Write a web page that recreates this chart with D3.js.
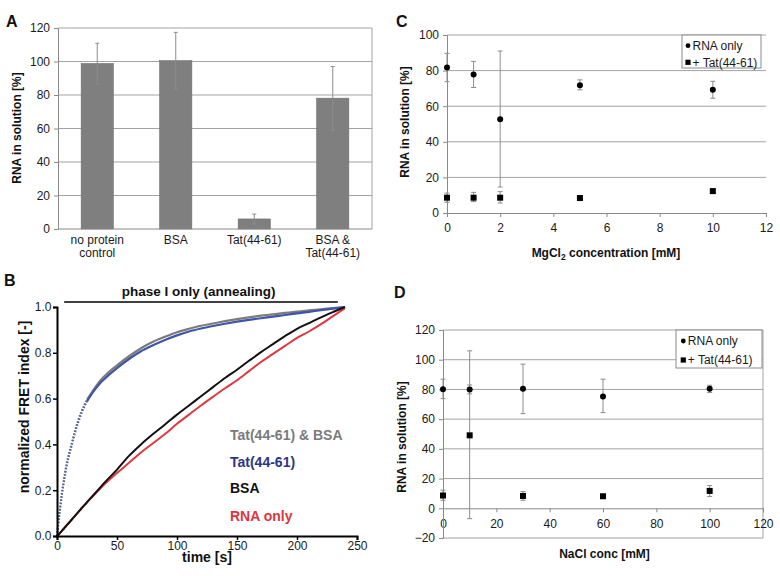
<!DOCTYPE html>
<html>
<head>
<meta charset="utf-8">
<script src="https://cdn.jsdelivr.net/npm/d3@7"></script>
<style>
  html, body { margin: 0; padding: 0; background: #fff; }
  svg { display: block; }
  text { font-family: "Liberation Sans", Arial, Helvetica, sans-serif; }
</style>
</head>
<body>
<script>
// ---------------- DATA ----------------
// Panel A
const catsA = ["no protein control", "BSA", "Tat(44-61)", "BSA & Tat(44-61)"];
const catLinesA = [["no protein", "control"], ["BSA"], ["Tat(44-61)"], ["BSA &", "Tat(44-61)"]];
const valsA = [98.8, 100.5, 6, 78.1];
const errLoA = [86.4, 83.4, 3, 58.8];
const errHiA = [110.9, 117.4, 8.9, 97];
const ticksA = [0, 20, 40, 60, 80, 100, 120];

// Panel B (time course)
const timeB = [0, 2, 4, 6, 8, 10, 12, 15, 20, 25, 30, 35, 40, 50, 60, 70, 80, 90, 100, 110, 120, 130, 140, 150, 160, 170, 180, 190, 200, 210, 220, 230, 240];
const tatBsaB = [0.0, 0.10, 0.185, 0.255, 0.315, 0.36, 0.40, 0.46, 0.54, 0.595, 0.635, 0.672, 0.70, 0.745, 0.785, 0.82, 0.848, 0.87, 0.89, 0.905, 0.918, 0.928, 0.938, 0.947, 0.955, 0.962, 0.968, 0.974, 0.98, 0.985, 0.99, 0.995, 1.0];
const tatB = [0.0, 0.09, 0.175, 0.245, 0.305, 0.35, 0.39, 0.45, 0.53, 0.588, 0.628, 0.662, 0.688, 0.733, 0.773, 0.807, 0.833, 0.856, 0.876, 0.893, 0.906, 0.917, 0.927, 0.936, 0.944, 0.951, 0.958, 0.965, 0.972, 0.979, 0.986, 0.993, 1.0];
const bsaB = [0.0, 0.01, 0.022, 0.034, 0.046, 0.058, 0.07, 0.088, 0.118, 0.148, 0.177, 0.206, 0.235, 0.29, 0.35, 0.40, 0.445, 0.487, 0.53, 0.57, 0.61, 0.65, 0.69, 0.726, 0.765, 0.803, 0.838, 0.873, 0.905, 0.93, 0.955, 0.978, 1.0];
const rnaB = [0.0, 0.01, 0.022, 0.034, 0.046, 0.058, 0.07, 0.088, 0.118, 0.146, 0.174, 0.202, 0.228, 0.275, 0.32, 0.365, 0.405, 0.445, 0.49, 0.53, 0.57, 0.608, 0.645, 0.68, 0.72, 0.76, 0.795, 0.83, 0.865, 0.893, 0.925, 0.96, 0.995];
const seriesNamesB = ["Tat(44-61) & BSA", "Tat(44-61)", "BSA", "RNA only"];
const xTicksB = [0, 50, 100, 150, 200, 250];
const yTicksB = [0, 0.2, 0.4, 0.6, 0.8, 1.0];

// Panel C (MgCl2)
const mgX = [0, 1, 2, 5, 10];
const mgRNA = [81.8, 77.8, 52.7, 71.8, 69.2];
const mgRNALo = [73.8, 70.5, 14.6, 69.2, 64.5];
const mgRNAHi = [89.7, 85.2, 91, 74.8, 74];
const mgTat = [8.6, 8.6, 8.6, 8.4, 12.3];
const mgTatLo = [6, 6.4, 5.6, 7.5, 11.5];
const mgTatHi = [11.2, 11.6, 12, 9.3, 13.3];
const xTicksC = [0, 2, 4, 6, 8, 10, 12];
const yTicksC = [0, 20, 40, 60, 80, 100];

// Panel D (NaCl)
const naX = [0, 10, 30, 60, 100];
const naRNA = [80.1, 80, 80.4, 75.2, 80.4];
const naRNALo = [73.8, 77, 63.7, 64.4, 77.9];
const naRNAHi = [86.9, 83, 97, 86.9, 82.8];
const naTat = [8.6, 49.1, 8.3, 8.1, 11.7];
const naTatLo = [5.4, -7, 5.4, 7.2, 7.9];
const naTatHi = [12.2, 106, 11.3, 9, 15.3];
const xTicksD = [0, 20, 40, 60, 80, 100, 120];
const yTicksD = [-20, 0, 20, 40, 60, 80, 100, 120];

const legendNames = ["RNA only", "+ Tat(44-61)"];

// ---------------- DRAW ----------------
const svg = d3.select("body").append("svg").attr("width", 780).attr("height", 576);
svg.append("rect").attr("width", 780).attr("height", 576).attr("fill", "#fff");

const GRID = "#a3a3a3", AXIS = "#8a8a8a", ERR = "#8c8c8c", TXT = "#1a1a1a";

function panelLabel(t, x, y) {
  svg.append("text").attr("x", x).attr("y", y).attr("font-size", 16).attr("font-weight", "bold").attr("fill", "#111").text(t);
}
panelLabel("A", 6, 26.5);
panelLabel("B", 4, 286);
panelLabel("C", 396, 26.5);
panelLabel("D", 394, 298);

// ===== Panel A =====
(function () {
  const g = svg.append("g");
  const x = d3.scaleBand().domain(catsA).range([58, 372]).paddingInner(0.59).paddingOuter(0.295);
  const y = d3.scaleLinear().domain([0, 120]).range([229, 28]);
  g.selectAll(".grid").data(ticksA.filter(d => d > 0)).join("line")
    .attr("x1", 58).attr("x2", 372).attr("y1", d => y(d)).attr("y2", d => y(d))
    .attr("stroke", GRID).attr("stroke-width", 1);
  g.append("line").attr("x1", 372).attr("x2", 372).attr("y1", y(120)).attr("y2", y(0)).attr("stroke", GRID);
  g.selectAll(".bar").data(valsA).join("rect")
    .attr("x", (d, i) => x(catsA[i])).attr("width", x.bandwidth())
    .attr("y", d => y(d)).attr("height", d => y(0) - y(d))
    .attr("fill", "#7f7f7f").attr("stroke", "#6e6e6e").attr("stroke-width", 0.6);
  const cx = i => x(catsA[i]) + x.bandwidth() / 2;
  valsA.forEach((v, i) => {
    g.append("line").attr("x1", cx(i)).attr("x2", cx(i)).attr("y1", y(errLoA[i])).attr("y2", y(errHiA[i])).attr("stroke", ERR);
    [errLoA[i], errHiA[i]].forEach(e => g.append("line").attr("x1", cx(i) - 2).attr("x2", cx(i) + 2).attr("y1", y(e)).attr("y2", y(e)).attr("stroke", ERR));
  });
  const ya = g.append("g").attr("transform", "translate(58,0)")
    .call(d3.axisLeft(y).tickValues(ticksA).tickSize(4).tickPadding(4));
  ya.select(".domain").attr("stroke", AXIS);
  ya.selectAll(".tick line").attr("stroke", AXIS);
  ya.selectAll("text").attr("font-size", 12).attr("fill", TXT).attr("font-family", "Liberation Sans, Arial, sans-serif");
  g.append("line").attr("x1", 58).attr("x2", 372).attr("y1", y(0)).attr("y2", y(0)).attr("stroke", AXIS);
  catLinesA.forEach((lines, i) => {
    lines.forEach((l, j) => {
      g.append("text").attr("x", cx(i)).attr("y", 243.5 + j * 13.5).attr("text-anchor", "middle")
        .attr("font-size", 12).attr("fill", TXT).text(l);
    });
  });
  g.append("text").attr("transform", "translate(21,128) rotate(-90)").attr("text-anchor", "middle")
    .attr("font-size", 12).attr("font-weight", "bold").attr("fill", "#111").text("RNA in solution [%]");
})();

// ===== Panel B =====
(function () {
  const g = svg.append("g");
  const x = d3.scaleLinear().domain([0, 250]).range([57, 357]);
  const y = d3.scaleLinear().domain([0, 1]).range([536, 307]);
  const pts = v => v.map((d, i) => [timeB[i], d]);
  const line = d3.line().x(d => x(d[0])).y(d => y(d[1])).curve(d3.curveMonotoneX);
  const split = 9; // index of t = 25 s : end of the sparse, dotted-looking fast phase
  const sets = [
    { v: tatBsaB, c: "#7b7b7b", fast: true },
    { v: tatB, c: "#3f55a5", fast: true },
    { v: rnaB, c: "#dc3a40", fast: false },
    { v: bsaB, c: "#111111", fast: false }
  ];
  sets.forEach(s => {
    const p = pts(s.v);
    if (s.fast) {
      g.append("path").attr("d", line(p.slice(0, split + 1))).attr("fill", "none").attr("stroke", "#5b6790")
        .attr("stroke-width", 2).attr("stroke-dasharray", "1.6,1.6");
      g.append("path").attr("d", line(p.slice(split))).attr("fill", "none").attr("stroke", s.c).attr("stroke-width", 2.2);
    } else {
      g.append("path").attr("d", line(p)).attr("fill", "none").attr("stroke", s.c).attr("stroke-width", 2);
    }
  });

  const xa = g.append("g").attr("transform", "translate(0,536)")
    .call(d3.axisBottom(x).tickValues(xTicksB).tickSize(4).tickPadding(1.5));
  const ya = g.append("g").attr("transform", "translate(57,0)")
    .call(d3.axisLeft(y).tickValues(yTicksB).tickFormat(d3.format(".1f")).tickSize(4).tickPadding(1.5));
  [xa, ya].forEach(a => {
    a.select(".domain").attr("stroke", "#000").attr("stroke-width", 2);
    a.selectAll(".tick line").attr("stroke", "#000").attr("stroke-width", 1.5);
    a.selectAll("text").attr("font-size", 12).attr("fill", TXT).attr("font-family", "Liberation Sans, Arial, sans-serif");
  });
  g.append("line").attr("x1", x(6)).attr("x2", x(234)).attr("y1", 302).attr("y2", 302).attr("stroke", "#000").attr("stroke-width", 1.5);
  g.append("text").attr("x", x(118)).attr("y", 295.5).attr("text-anchor", "middle")
    .attr("font-size", 13.5).attr("font-weight", "bold").attr("fill", "#111").text("phase I only (annealing)");
  const cols = ["#7a7a7a", "#2f3483", "#111111", "#e0353d"];
  const ys = [440, 467, 493, 521];
  seriesNamesB.forEach((n, i) => {
    g.append("text").attr("x", 230).attr("y", ys[i]).attr("font-size", 14).attr("font-weight", "bold")
      .attr("fill", cols[i]).text(n);
  });
  g.append("text").attr("x", 207).attr("y", 562).attr("text-anchor", "middle")
    .attr("font-size", 14).attr("font-weight", "bold").attr("fill", "#111").text("time [s]");
  g.append("text").attr("transform", "translate(29,407) rotate(-90)").attr("text-anchor", "middle")
    .attr("font-size", 14).attr("font-weight", "bold").attr("fill", "#111").text("normalized FRET index [-]");
})();

// ===== scatter helper for C & D =====
function scatterPanel(opt) {
  const g = svg.append("g");
  const x = d3.scaleLinear().domain(opt.xDomain).range(opt.xRange);
  const y = d3.scaleLinear().domain(opt.yDomain).range(opt.yRange);
  g.selectAll(".grid").data(opt.yTicks.filter(d => d !== 0)).join("line")
    .attr("x1", opt.xRange[0]).attr("x2", opt.xRange[1]).attr("y1", d => y(d)).attr("y2", d => y(d))
    .attr("stroke", GRID);
  if (opt.rightBorder) {
    g.append("line").attr("x1", opt.xRange[1]).attr("x2", opt.xRange[1]).attr("y1", opt.yRange[0]).attr("y2", opt.yRange[1]).attr("stroke", GRID);
  }
  const xa = g.append("g").attr("transform", `translate(0,${y(0)})`)
    .call(d3.axisBottom(x).tickValues(opt.xTicks).tickSize(4).tickPadding(opt.xPad));
  const ya = g.append("g").attr("transform", `translate(${opt.xRange[0]},0)`)
    .call(d3.axisLeft(y).tickValues(opt.yTicks).tickSize(4).tickPadding(4));
  [xa, ya].forEach(a => {
    a.select(".domain").attr("stroke", AXIS);
    a.selectAll(".tick line").attr("stroke", AXIS);
    a.selectAll("text").attr("font-size", 12).attr("fill", TXT).attr("font-family", "Liberation Sans, Arial, sans-serif");
  });
  function errs(xs, lo, hi) {
    xs.forEach((xv, i) => {
      g.append("line").attr("x1", x(xv)).attr("x2", x(xv)).attr("y1", y(lo[i])).attr("y2", y(hi[i])).attr("stroke", ERR);
      [lo[i], hi[i]].forEach(e => g.append("line").attr("x1", x(xv) - 2.5).attr("x2", x(xv) + 2.5).attr("y1", y(e)).attr("y2", y(e)).attr("stroke", ERR));
    });
  }
  errs(opt.xs, opt.rnaLo, opt.rnaHi);
  errs(opt.xs, opt.tatLo, opt.tatHi);
  g.selectAll(".c").data(opt.rna).join("circle")
    .attr("cx", (d, i) => x(opt.xs[i])).attr("cy", d => y(d)).attr("r", 3).attr("fill", "#000");
  g.selectAll(".s").data(opt.tat).join("rect")
    .attr("x", (d, i) => x(opt.xs[i]) - 3).attr("y", d => y(d) - 3).attr("width", 6).attr("height", 6).attr("fill", "#000");
  const L = opt.legend;
  g.append("rect").attr("x", L.x).attr("y", L.y).attr("width", L.w).attr("height", L.h)
    .attr("fill", "#fff").attr("stroke", "#8a8a8a");
  g.append("circle").attr("cx", L.mx).attr("cy", L.y1).attr("r", 2.4).attr("fill", "#000");
  g.append("rect").attr("x", L.mx - 2.6).attr("y", L.y2 - 2.6).attr("width", 5.2).attr("height", 5.2).attr("fill", "#000");
  g.append("text").attr("x", L.mx + 4.5).attr("y", L.y1 + 4.2).attr("font-size", 12).attr("fill", TXT).text(legendNames[0]);
  g.append("text").attr("x", L.mx + 4.5).attr("y", L.y2 + 4.2).attr("font-size", 12).attr("fill", TXT).text(legendNames[1]);
  g.append("text").attr("transform", `translate(${opt.yTitleX},${opt.yTitleY}) rotate(-90)`)
    .attr("text-anchor", "middle").attr("font-size", 12).attr("font-weight", "bold").attr("fill", "#111")
    .text("RNA in solution [%]");
  const xt = g.append("text").attr("x", opt.xTitleX).attr("y", opt.xTitleY).attr("text-anchor", "middle")
    .attr("font-size", 12).attr("font-weight", "bold").attr("fill", "#111");
  opt.xTitle(xt);
}

// ===== Panel C =====
scatterPanel({
  xDomain: [0, 12], xRange: [447, 766], yDomain: [0, 100], yRange: [213, 35],
  xTicks: xTicksC, yTicks: yTicksC, xPad: 6, rightBorder: false,
  xs: mgX, rna: mgRNA, rnaLo: mgRNALo, rnaHi: mgRNAHi, tat: mgTat, tatLo: mgTatLo, tatHi: mgTatHi,
  legend: { x: 682, y: 35, w: 79, h: 33, mx: 688, y1: 45.7, y2: 62.3 },
  yTitleX: 409, yTitleY: 122, xTitleX: 606, xTitleY: 256.5,
  xTitle: t => {
    t.append("tspan").text("MgCl");
    t.append("tspan").attr("font-size", 8.5).attr("dy", 3).text("2");
    t.append("tspan").attr("dy", -3).text(" concentration [mM]");
  }
});

// ===== Panel D =====
scatterPanel({
  xDomain: [0, 120], xRange: [443, 763], yDomain: [-20, 120], yRange: [538, 330],
  xTicks: xTicksD, yTicks: yTicksD, xPad: 7, rightBorder: true,
  xs: naX, rna: naRNA, rnaLo: naRNALo, rnaHi: naRNAHi, tat: naTat, tatLo: naTatLo, tatHi: naTatHi,
  legend: { x: 676, y: 330, w: 86, h: 38, mx: 683.3, y1: 341, y2: 360 },
  yTitleX: 406, yTitleY: 437, xTitleX: 604.5, xTitleY: 558,
  xTitle: t => t.text("NaCl conc [mM]")
});
</script>
</body>
</html>
